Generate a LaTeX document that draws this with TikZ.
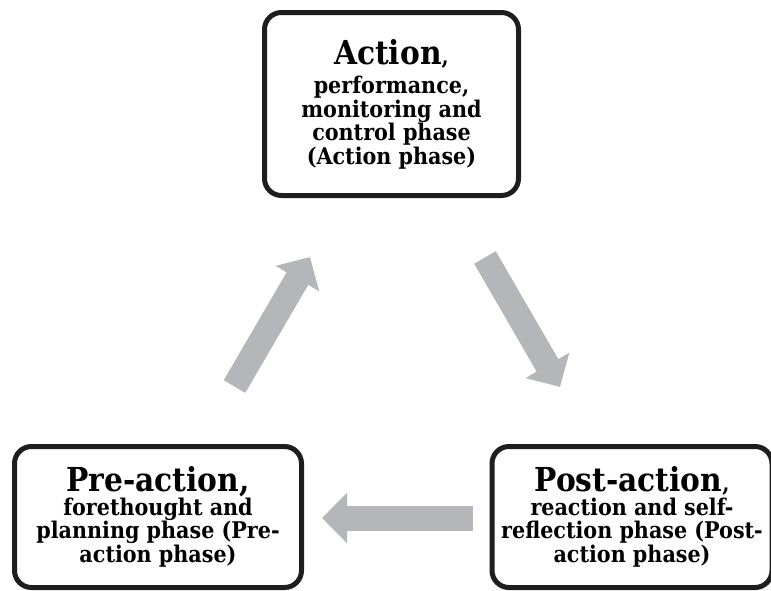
\documentclass[tikz,border=0pt]{standalone}
\usepackage{fontspec}
\setmainfont{DejaVu Serif Condensed}
\usepackage{tikz}
\usetikzlibrary{arrows.meta}

\definecolor{flowgrey}{RGB}{181,182,186}
\definecolor{boxblack}{RGB}{30,30,30}
\lineskiplimit=-10pt

\tikzset{
  phase/.style={draw=boxblack, line width=5pt, rounded corners=17pt,
    align=center, inner sep=0pt, font=\bfseries\fontsize{23}{23.5}\selectfont},
  flow/.style={draw=flowgrey, line width=25pt,
    -{Triangle[length=25pt,width=49pt]}}
}
\newcommand{\phasehead}[1]{{\fontsize{33}{23.5}\selectfont #1}}

\begin{document}
\begin{tikzpicture}[x=1pt,y=-1pt]
  \useasboundingbox (0,0) rectangle (771,590);

  % phase boxes
  \node[phase, minimum width=254pt, minimum height=183pt] (act) at (391.5,104)
    {\phasehead{Action},\\[6pt] performance,\\ monitoring and\\ control phase\\ (Action phase)};
  \node[phase, minimum width=287pt, minimum height=141pt] (pre) at (158,517)
    {\phasehead{Pre-action,}\\ forethought and\\ planning phase (Pre-\\ action phase)};
  \node[phase, minimum width=280pt, minimum height=141pt] (post) at (632,517)
    {\phasehead{Post-action},\\ reaction and self-\\ reflection phase (Post-\\ action phase)};

  \coordinate (preTail) at (234.5,386.5);
  \coordinate (preTip) at (310,257);
  \coordinate (actTail) at (485,257.5);
  \coordinate (actTip) at (560,387);
  \coordinate (postTail) at (473,518);
  \coordinate (postTip) at (322,518);

  % cycle arrows
  \draw[flow] (preTail) -- (preTip);
  \draw[flow] (actTail) -- (actTip);
  \draw[flow] (postTail) -- (postTip);

\end{tikzpicture}
\end{document}
